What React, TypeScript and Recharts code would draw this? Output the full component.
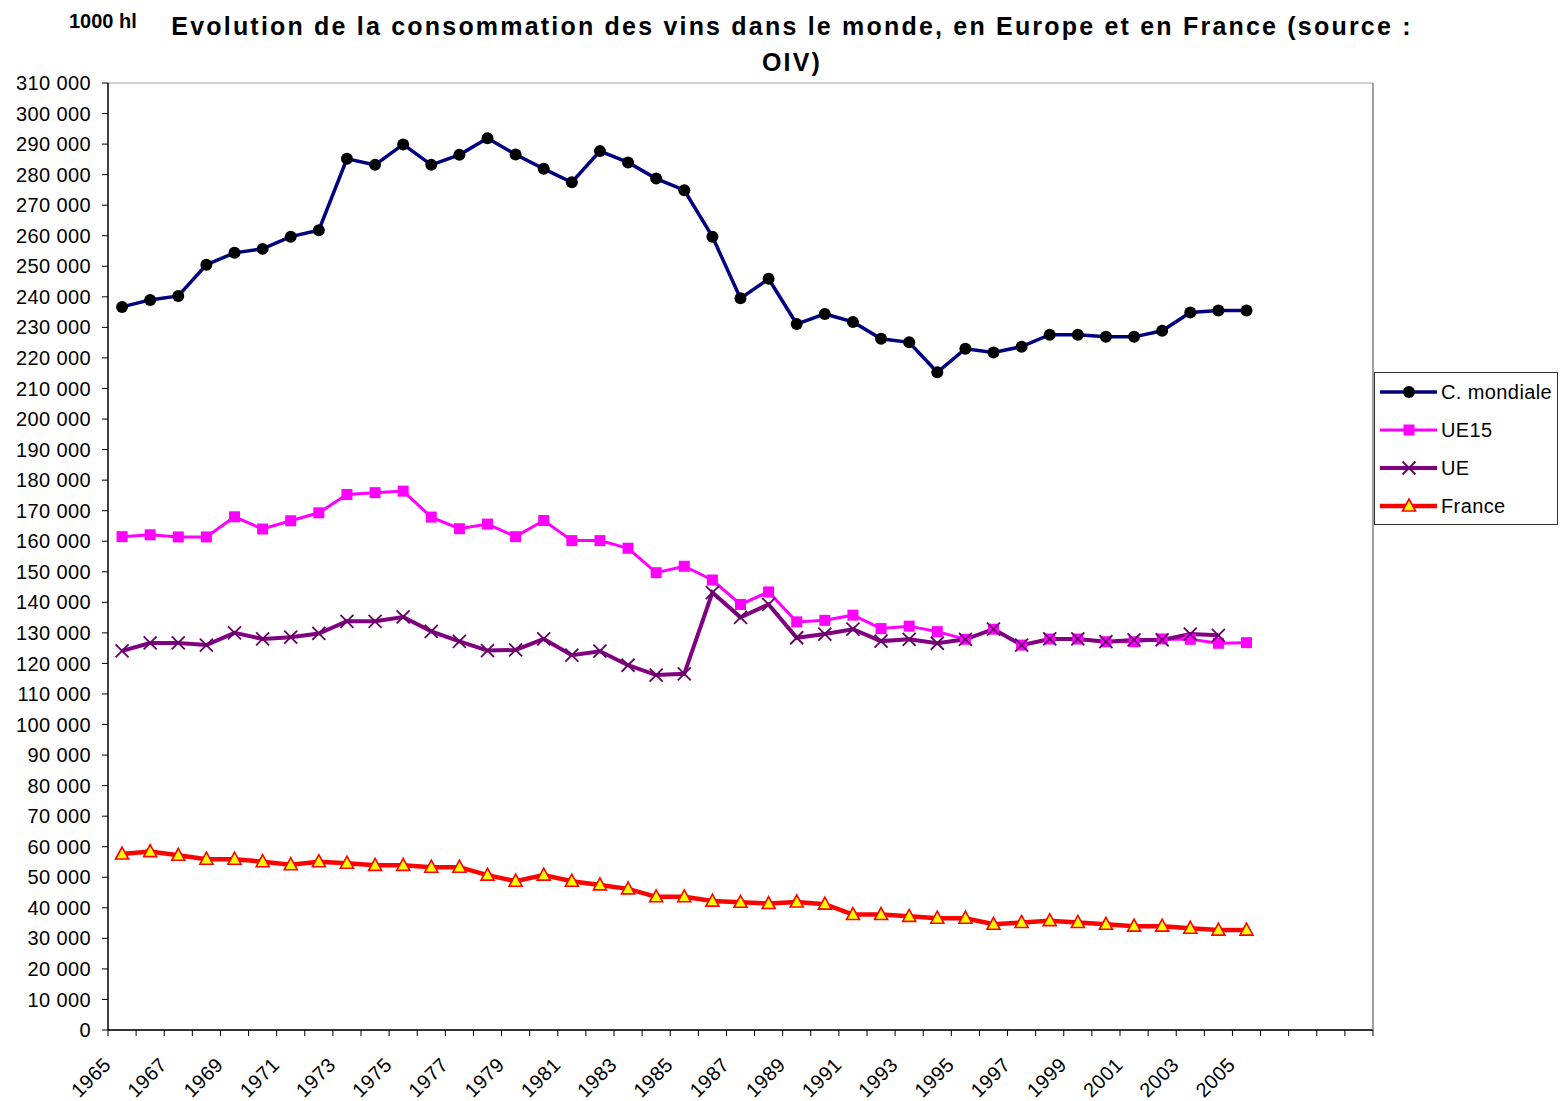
import React from 'react';
import { LineChart, Line, XAxis, YAxis, CartesianGrid } from 'recharts';

const years = [
  '1965','1966','1967','1968','1969','1970','1971','1972','1973','1974',
  '1975','1976','1977','1978','1979','1980','1981','1982','1983','1984',
  '1985','1986','1987','1988','1989','1990','1991','1992','1993','1994',
  '1995','1996','1997','1998','1999','2000','2001','2002','2003','2004','2005',
];
// empty categories at the end of the axis (no data, no label)
const emptyCategories = ['2006', '2007', '2008', '2009'];

const mondiale = [
  236700, 239000, 240300, 250500, 254400, 255700, 259700, 261800, 285200, 283200,
  289900, 283200, 286500, 291900, 286600, 281900, 277500, 287700, 284000, 278700,
  274900, 259700, 239500, 245900, 231100, 234400, 231800, 226300, 225100, 215300,
  223000, 221800, 223700, 227600, 227600, 226900, 226900, 228900, 234900, 235500, 235500,
];
const ue15 = [
  161500, 162100, 161400, 161400, 168000, 164000, 166700, 169300, 175300, 175900,
  176400, 167900, 164100, 165600, 161500, 166800, 160200, 160200, 157700, 149700,
  151800, 147300, 139300, 143400, 133600, 134100, 135800, 131400, 132200, 130400,
  127900, 131200, 126000, 128000, 128000, 127100, 127100, 128000, 127900, 126600, 126800,
];
const ue = [
  124100, 126700, 126700, 126000, 130000, 128000, 128600, 129800, 133800, 133800,
  135200, 130500, 127200, 124200, 124400, 128000, 122700, 124000, 119400, 116200,
  116600, 143200, 135100, 139300, 128400, 129600, 131200, 127300, 127900, 126600,
  127900, 131200, 126000, 128000, 128000, 127100, 127700, 127700, 129600, 129200, null,
];
const france = [
  57600, 58400, 57200, 55900, 55900, 55100, 54100, 55100, 54600, 53900,
  53900, 53300, 53300, 50700, 48700, 50700, 48700, 47500, 46200, 43600,
  43600, 42200, 41800, 41400, 41900, 41200, 37800, 37800, 37200, 36600,
  36600, 34600, 35200, 35800, 35200, 34600, 34000, 34000, 33300, 32700, 32700,
];

const yTicks = [
  0, 10000, 20000, 30000, 40000, 50000, 60000, 70000, 80000, 90000, 100000,
  110000, 120000, 130000, 140000, 150000, 160000, 170000, 180000, 190000, 200000,
  210000, 220000, 230000, 240000, 250000, 260000, 270000, 280000, 290000, 300000, 310000,
];

const categories = [...years, ...emptyCategories];
const data = categories.map((year, i) => ({
  year,
  label: i < years.length && i % 2 === 0 ? year : '',
  mondiale: i < years.length ? mondiale[i] : null,
  ue15: i < years.length ? ue15[i] : null,
  ue: i < years.length ? ue[i] : null,
  france: i < years.length ? france[i] : null,
}));

const FONT = '"Liberation Sans", Arial, sans-serif';
const PLOT_LEFT = 108;
const PLOT_RIGHT = 1373;
const BAND = (PLOT_RIGHT - PLOT_LEFT) / categories.length;
const TICK_SIZE = 6;
const TICK_MARGIN = 8;

const fmt = (v: number) => {
  const s = String(v);
  return s.replace(/\B(?=(\d{3})+(?!\d))/g, ' ');
};

const XTick = (props: any) => {
  const { x, y, payload, index } = props;
  const idx = typeof payload?.index === 'number' ? payload.index : index;
  const label = data[idx]?.label ?? '';
  const y0 = y - TICK_SIZE - TICK_MARGIN;
  const bx = x - 10;
  const by = y0 + 36;
  return (
    <g>
      <line x1={x - BAND / 2} x2={x - BAND / 2} y1={y0} y2={y0 + TICK_SIZE} stroke="#000" strokeWidth={1} />
      {idx === categories.length - 1 && (
        <line x1={x + BAND / 2} x2={x + BAND / 2} y1={y0} y2={y0 + TICK_SIZE} stroke="#000" strokeWidth={1} />
      )}
      {label && (
        <text
          x={bx}
          y={by}
          transform={`rotate(-45, ${bx}, ${by})`}
          textAnchor="end"
          fontFamily={FONT}
          fontSize={20}
          letterSpacing={0.4}
          fill="#000"
        >
          {label}
        </text>
      )}
    </g>
  );
};

const CircleDot = (p: any) => {
  const { cx, cy, index } = p;
  if (cx == null || cy == null || p.value == null) return <g key={`c${index}`} />;
  return <ellipse key={`c${index}`} cx={cx} cy={cy} rx={6} ry={6} fill="#000" />;
};
const SquareDot = (p: any) => {
  const { cx, cy, index } = p;
  if (cx == null || cy == null || p.value == null) return <g key={`s${index}`} />;
  return <rect key={`s${index}`} x={cx - 5.5} y={cy - 5.5} width={11} height={11} fill="#FF00FF" />;
};
const XDot = (p: any) => {
  const { cx, cy, index } = p;
  if (cx == null || cy == null || p.value == null) return <g key={`x${index}`} />;
  const h = 6.5;
  return (
    <g key={`x${index}`}>
      <line x1={cx - h} y1={cy - h} x2={cx + h} y2={cy + h} stroke="#660066" strokeWidth={1.8} />
      <line x1={cx - h} y1={cy + h} x2={cx + h} y2={cy - h} stroke="#660066" strokeWidth={1.8} />
    </g>
  );
};
const TriDot = (p: any) => {
  const { cx, cy, index } = p;
  if (cx == null || cy == null || p.value == null) return <g key={`t${index}`} />;
  return (
    <polygon
      key={`t${index}`}
      points={`${cx},${cy - 7} ${cx + 6.5},${cy + 5} ${cx - 6.5},${cy + 5}`}
      fill="#FFFF00"
      stroke="#FF0000"
      strokeWidth={1.6}
      strokeLinejoin="miter"
    />
  );
};

const series = [
  { key: 'mondiale', name: 'C. mondiale', color: '#000080', width: 3.5, Dot: CircleDot },
  { key: 'ue15', name: 'UE15', color: '#FF00FF', width: 3, Dot: SquareDot },
  { key: 'ue', name: 'UE', color: '#800080', width: 4, Dot: XDot },
  { key: 'france', name: 'France', color: '#FF0000', width: 4.5, Dot: TriDot },
];

const LegendBox = () => (
  <div
    style={{
      position: 'absolute',
      left: 1374,
      top: 372,
      width: 184,
      height: 153,
      boxSizing: 'border-box',
      border: '1px solid #333',
      background: '#fff',
      fontFamily: FONT,
      fontSize: 20,
      letterSpacing: 0.4,
    }}
  >
    {series.map((s) => (
      <div key={s.key} style={{ display: 'flex', alignItems: 'center', height: 38 }}>
        <svg width={66} height={20} style={{ display: 'block' }}>
          <line x1={5} x2={62} y1={10} y2={10} stroke={s.color} strokeWidth={s.width} />
          <s.Dot cx={34} cy={10} index={0} value={1} />
        </svg>
        <span style={{ color: '#000' }}>{s.name}</span>
      </div>
    ))}
  </div>
);

export default function App() {
  return (
    <div style={{ position: 'absolute', left: 0, top: 0, width: 1560, height: 1101, background: '#fff' }}>
      <div
        style={{
          position: 'absolute',
          left: 69,
          top: 9,
          fontFamily: FONT,
          fontWeight: 'bold',
          fontSize: 20,
          lineHeight: '24px',
          color: '#000',
        }}
      >
        1000 hl
      </div>
      <div
        style={{
          position: 'absolute',
          left: 0,
          width: 1584,
          top: 8,
          textAlign: 'center',
          fontFamily: FONT,
          fontWeight: 'bold',
          fontSize: 25,
          letterSpacing: 2.2,
          lineHeight: '36px',
          color: '#000',
        }}
      >
        <div>Evolution de la consommation des vins dans le monde, en Europe et en France (source :</div>
        <div>OIV)</div>
      </div>
      <div style={{ position: 'absolute', left: 0, top: 0 }}>
        <LineChart
          width={1560}
          height={1101}
          data={data}
          margin={{ top: 83, right: 186, bottom: 0, left: 8 }}
        >
          <CartesianGrid horizontal vertical={false} stroke="#C0C0C0" strokeWidth={1.6} />
          <XAxis
            dataKey="year"
            type="category"
            scale="band"
            interval={0}
            height={71}
            tickLine={false}
            tickSize={TICK_SIZE}
            tickMargin={TICK_MARGIN}
            axisLine={{ stroke: '#000', strokeWidth: 1.5 }}
            tick={<XTick />}
          />
          <YAxis
            yAxisId="left"
            width={100}
            domain={[0, 310000]}
            ticks={yTicks}
            interval={0}
            tickSize={6}
            tickMargin={11}
            tickFormatter={fmt}
            axisLine={{ stroke: '#000', strokeWidth: 1.5 }}
            tickLine={{ stroke: '#000' }}
            tick={{ fontFamily: FONT, fontSize: 20, fill: '#000', letterSpacing: 0.4 }}
          />
          <YAxis
            yAxisId="right"
            orientation="right"
            width={1}
            domain={[0, 310000]}
            tick={false}
            tickLine={false}
            axisLine={{ stroke: '#808080', strokeWidth: 1.5 }}
          />
          {series.map((s) => (
            <Line
              key={s.key}
              yAxisId="left"
              type="linear"
              dataKey={s.key}
              name={s.name}
              stroke={s.color}
              strokeWidth={s.width}
              dot={(p: any) => <s.Dot {...p} key={`${s.key}-${p.index}`} />}
              activeDot={false}
              isAnimationActive={false}
              connectNulls={false}
            />
          ))}
        </LineChart>
      </div>
      <LegendBox />
    </div>
  );
}
